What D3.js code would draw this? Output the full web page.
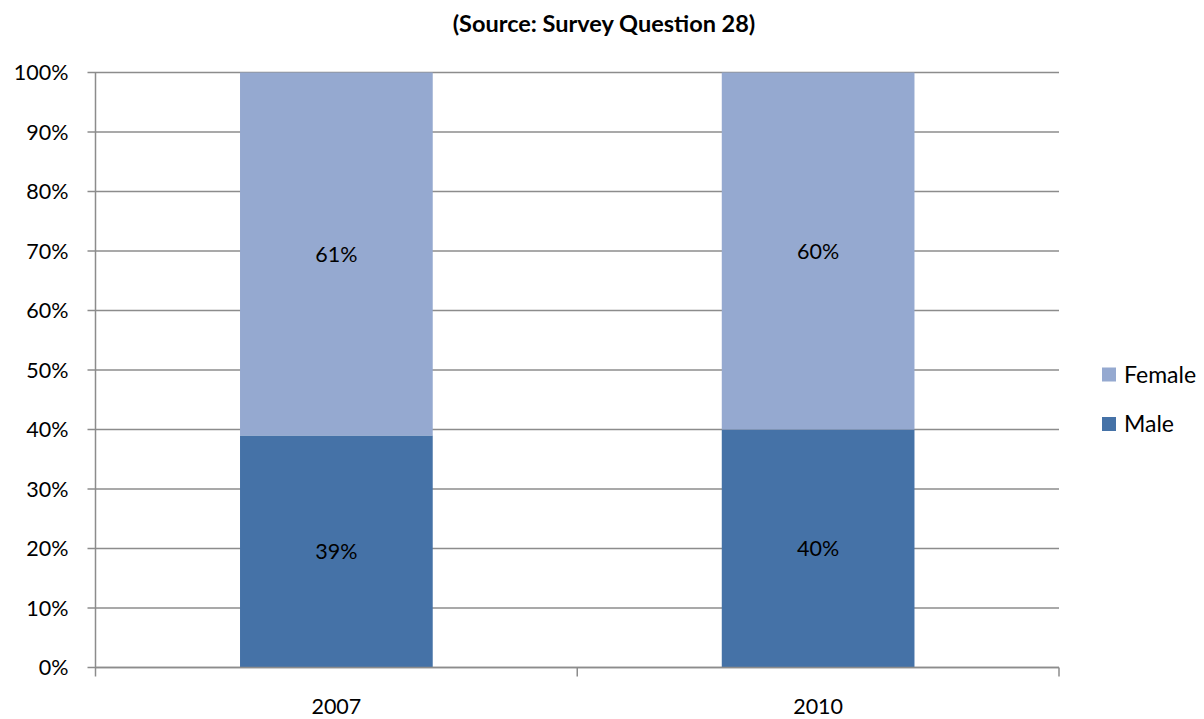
<!DOCTYPE html>
<html>
<head>
<meta charset="utf-8">
<script src="https://cdn.jsdelivr.net/npm/d3@7"></script>
<style>
    body { margin: 0; background: #fff; }
    text { font-family: Lato, "Open Sans", sans-serif; fill: #000; }
</style>
</head>
<body>
<svg id="chart" width="1204" height="719"></svg>
<script>
var years = ["2007", "2010"];
var male = [39, 40];
var female = [61, 60];
var yTicks = [0, 10, 20, 30, 40, 50, 60, 70, 80, 90, 100];

(function () {
    var svg = d3.select("#chart"),
        margin = { top: 72.5, left: 95.5 },
        width = 963.5,
        height = 595,
        g = svg.append("g").attr("transform", "translate(" + margin.left + "," + margin.top + ")");

    var x = d3.scaleBand().domain(years).range([0, width]).paddingInner(0.6).paddingOuter(0.3);
    var y = d3.scaleLinear().domain([0, 100]).range([height, 0]);

    var colors = { Male: "#4572a7", Female: "#95a9d0" };

    svg.append("text")
        .attr("x", 604).attr("y", 32)
        .attr("text-anchor", "middle")
        .style("font-size", "23.5px").style("font-weight", "bold")
        .text("(Source: Survey Question 28)");

    // gridlines
    g.selectAll(".grid")
        .data(yTicks)
        .enter().append("line")
        .attr("x1", -8).attr("x2", width)
        .attr("y1", function (d) { return y(d); })
        .attr("y2", function (d) { return y(d); })
        .attr("stroke", "#8c8c8c").attr("stroke-width", 1.5);

    g.selectAll(".ylab")
        .data(yTicks)
        .enter().append("text")
        .attr("x", -27)
        .attr("y", function (d) { return y(d); })
        .attr("dy", "0.36em")
        .attr("text-anchor", "end")
        .style("font-size", "21.5px")
        .text(function (d) { return d + "%"; });

    var stack = years.map(function (yr, i) {
        return [
            { year: yr, name: "Male", y0: 0, y1: male[i] },
            { year: yr, name: "Female", y0: male[i], y1: male[i] + female[i] }
        ];
    });
    var segs = [].concat.apply([], stack);

    g.selectAll(".bar")
        .data(segs)
        .enter().append("rect")
        .attr("x", function (d) { return x(d.year); })
        .attr("width", x.bandwidth())
        .attr("y", function (d) { return y(d.y1); })
        .attr("height", function (d) { return y(d.y0) - y(d.y1); })
        .attr("fill", function (d) { return colors[d.name]; });

    g.selectAll(".val")
        .data(segs)
        .enter().append("text")
        .attr("x", function (d) { return x(d.year) + x.bandwidth() / 2; })
        .attr("y", function (d) { return y((d.y0 + d.y1) / 2); })
        .attr("dy", "0.36em")
        .attr("text-anchor", "middle")
        .style("font-size", "21.5px")
        .text(function (d) { return (d.y1 - d.y0) + "%"; });

    // axes lines
    g.append("line").attr("x1", 0).attr("x2", 0).attr("y1", 0).attr("y2", height)
        .attr("stroke", "#8c8c8c").attr("stroke-width", 1.5);
    g.append("line").attr("x1", 0).attr("x2", width).attr("y1", height).attr("y2", height)
        .attr("stroke", "#8c8c8c").attr("stroke-width", 1.5);
    var xt = [0, width / 2, width];
    g.selectAll(".xtick")
        .data(xt)
        .enter().append("line")
        .attr("x1", function (d) { return d; }).attr("x2", function (d) { return d; })
        .attr("y1", height).attr("y2", height + 9)
        .attr("stroke", "#8c8c8c").attr("stroke-width", 1.5);

    g.selectAll(".xlab")
        .data(years)
        .enter().append("text")
        .attr("x", function (d) { return x(d) + x.bandwidth() / 2; })
        .attr("y", height + 46)
        .attr("text-anchor", "middle")
        .style("font-size", "21.5px")
        .text(function (d) { return d; });

    var legend = [["Female", 374.5], ["Male", 424]];
    var lg = svg.selectAll(".leg")
        .data(legend)
        .enter().append("g")
        .attr("transform", function (d) { return "translate(1102," + d[1] + ")"; });
    lg.append("rect").attr("x", 0).attr("y", -7).attr("width", 14).attr("height", 14)
        .attr("fill", function (d) { return colors[d[0]]; });
    lg.append("text").attr("x", 22).attr("y", 0).attr("dy", "0.36em")
        .style("font-size", "23px")
        .text(function (d) { return d[0]; });
})();
</script>
</body>
</html>
